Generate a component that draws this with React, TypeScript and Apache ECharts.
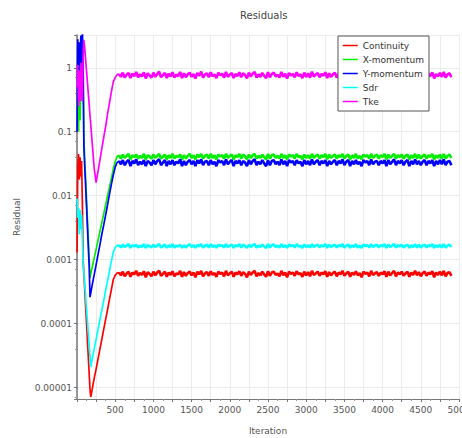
import React, { useEffect, useRef } from "react";
import * as echarts from "echarts";

const iterations = [
  1, 10, 20, 30, 40, 50, 60, 70, 80, 90, 100, 110, 120, 130, 140, 150, 160, 170, 180, 190, 200,
  225, 250, 275, 300, 325, 350, 375, 400, 425, 450, 475, 500, 525,
  550, 575, 600, 625, 650, 675, 700, 725, 750, 775, 800, 825, 850, 875, 900, 925, 950, 975,
  1000, 1025, 1050, 1075, 1100, 1125, 1150, 1175, 1200, 1225, 1250, 1275, 1300, 1325, 1350, 1375,
  1400, 1425, 1450, 1475, 1500, 1525, 1550, 1575, 1600, 1625, 1650, 1675, 1700, 1725, 1750, 1775,
  1800, 1825, 1850, 1875, 1900, 1925, 1950, 1975, 2000, 2025, 2050, 2075, 2100, 2125, 2150, 2175,
  2200, 2225, 2250, 2275, 2300, 2325, 2350, 2375, 2400, 2425, 2450, 2475, 2500, 2525, 2550, 2575,
  2600, 2625, 2650, 2675, 2700, 2725, 2750, 2775, 2800, 2825, 2850, 2875, 2900, 2925, 2950, 2975,
  3000, 3025, 3050, 3075, 3100, 3125, 3150, 3175, 3200, 3225, 3250, 3275, 3300, 3325, 3350, 3375,
  3400, 3425, 3450, 3475, 3500, 3525, 3550, 3575, 3600, 3625, 3650, 3675, 3700, 3725, 3750, 3775,
  3800, 3825, 3850, 3875, 3900, 3925, 3950, 3975, 4000, 4025, 4050, 4075, 4100, 4125, 4150, 4175,
  4200, 4225, 4250, 4275, 4300, 4325, 4350, 4375, 4400, 4425, 4450, 4475, 4500, 4525, 4550, 4575,
  4600, 4625, 4650, 4675, 4700, 4725, 4750, 4775, 4800, 4825, 4850, 4875, 4900,
];

const continuity = [
  0.0013, 0.03, 0.045, 0.018, 0.04, 0.02, 0.035, 0.008, 0.001, 6e-4, 3.6e-4, 2.1e-4, 1.3e-4, 7.6e-5, 4.5e-5, 2.7e-5, 1.6e-5, 9.5e-6, 7.2e-6, 8.3e-6, 9.6e-6,
  1.4e-5, 1.95e-5, 2.8e-5, 4e-5, 5.7e-5, 8.2e-5, 1.17e-4, 1.66e-4, 2.4e-4, 3.4e-4, 4.9e-4, 5.7e-4, 6.2e-4,
  6.3e-4, 5.7e-4, 6.5e-4, 5.5e-4, 6.1e-4, 6.5e-4, 5.4e-4, 6.3e-4, 5.9e-4, 6.7e-4,
  5.6e-4, 6.2e-4, 5.8e-4, 6.6e-4, 5.3e-4, 6.4e-4, 6.0e-4, 5.5e-4, 6.5e-4, 5.7e-4,
  6.3e-4, 6.7e-4, 5.6e-4, 6.0e-4, 6.5e-4, 5.4e-4, 6.3e-4, 5.8e-4, 6.6e-4, 5.5e-4,
  6.1e-4, 5.9e-4, 6.7e-4, 5.4e-4, 6.4e-4, 5.6e-4, 6.2e-4, 6.5e-4, 5.7e-4, 6.3e-4,
  5.3e-4, 6.5e-4, 5.9e-4, 6.7e-4, 5.5e-4, 6.1e-4, 6.4e-4, 5.6e-4, 6.6e-4, 5.8e-4,
  6.2e-4, 5.4e-4, 6.5e-4, 6.0e-4, 6.3e-4, 5.5e-4, 6.7e-4, 5.7e-4, 6.1e-4, 6.5e-4,
  5.4e-4, 6.3e-4, 5.9e-4, 6.6e-4, 5.6e-4, 6.4e-4, 6.0e-4, 5.3e-4, 6.5e-4, 5.8e-4,
  6.3e-4, 6.7e-4, 5.5e-4, 6.2e-4, 5.7e-4, 6.5e-4, 5.9e-4, 5.4e-4, 6.6e-4, 5.6e-4,
  6.3e-4, 6.5e-4, 5.8e-4, 6.1e-4, 5.5e-4, 6.7e-4, 5.7e-4, 6.3e-4, 5.3e-4, 6.5e-4,
  6.0e-4, 6.3e-4, 5.6e-4, 6.6e-4, 5.9e-4, 6.2e-4, 5.4e-4, 6.5e-4, 5.7e-4, 6.4e-4,
  5.5e-4, 6.7e-4, 5.8e-4, 6.1e-4, 6.5e-4, 5.6e-4, 6.3e-4, 5.9e-4, 6.6e-4, 5.4e-4,
  6.4e-4, 5.7e-4, 6.2e-4, 6.5e-4, 5.5e-4, 6.3e-4, 5.9e-4, 6.7e-4, 5.6e-4, 6.1e-4,
  6.5e-4, 5.4e-4, 6.3e-4, 5.8e-4, 6.6e-4, 5.7e-4, 6.2e-4, 5.3e-4, 6.5e-4, 6.0e-4,
  6.3e-4, 5.5e-4, 6.7e-4, 5.8e-4, 6.1e-4, 6.4e-4, 5.6e-4, 6.3e-4, 5.9e-4, 6.6e-4,
  5.4e-4, 6.5e-4, 5.7e-4, 6.2e-4, 6.7e-4, 5.5e-4, 6.3e-4, 5.9e-4, 6.5e-4, 5.6e-4,
  6.1e-4, 6.5e-4, 5.4e-4, 6.3e-4, 5.8e-4, 6.7e-4, 5.7e-4, 6.4e-4, 5.5e-4, 6.2e-4,
  6.5e-4, 5.6e-4, 6.3e-4, 5.9e-4, 6.6e-4, 5.3e-4, 6.3e-4, 5.8e-4, 6.5e-4, 5.7e-4,
  6.7e-4, 5.5e-4, 6.2e-4, 6.4e-4, 5.6e-4,
];

const xMomentum = [
  0.2, 0.8, 0.1, 0.7, 0.15, 1.0, 0.3, 0.9, 0.5, 0.08, 0.04, 0.022, 0.012, 0.0065, 0.0035, 0.0019, 0.001, 5.2e-4, 6.0e-4, 6.8e-4, 7.7e-4,
  1.07e-3, 1.45e-3, 2.0e-3, 2.75e-3, 3.8e-3, 5.2e-3, 7.2e-3, 0.01, 0.0135, 0.0186, 0.026, 0.034, 0.041,
  0.043, 0.038, 0.044, 0.039, 0.042, 0.045, 0.037, 0.043, 0.040, 0.044,
  0.038, 0.042, 0.039, 0.045, 0.037, 0.043, 0.041, 0.038, 0.044, 0.039,
  0.042, 0.045, 0.038, 0.041, 0.044, 0.037, 0.043, 0.039, 0.045, 0.038,
  0.042, 0.040, 0.044, 0.037, 0.043, 0.038, 0.042, 0.045, 0.039, 0.043,
  0.037, 0.044, 0.040, 0.045, 0.038, 0.042, 0.044, 0.038, 0.045, 0.039,
  0.043, 0.037, 0.044, 0.041, 0.043, 0.038, 0.045, 0.039, 0.042, 0.044,
  0.037, 0.043, 0.040, 0.045, 0.038, 0.044, 0.041, 0.037, 0.044, 0.039,
  0.043, 0.045, 0.038, 0.042, 0.039, 0.044, 0.040, 0.037, 0.045, 0.038,
  0.043, 0.044, 0.039, 0.042, 0.038, 0.045, 0.039, 0.043, 0.037, 0.044,
  0.041, 0.043, 0.038, 0.045, 0.040, 0.042, 0.037, 0.044, 0.039, 0.043,
  0.038, 0.045, 0.039, 0.042, 0.044, 0.038, 0.043, 0.040, 0.045, 0.037,
  0.044, 0.039, 0.042, 0.044, 0.038, 0.043, 0.040, 0.045, 0.038, 0.042,
  0.044, 0.037, 0.043, 0.039, 0.045, 0.038, 0.042, 0.037, 0.044, 0.041,
  0.043, 0.038, 0.045, 0.039, 0.042, 0.044, 0.038, 0.043, 0.040, 0.045,
  0.037, 0.044, 0.039, 0.042, 0.045, 0.038, 0.043, 0.040, 0.044, 0.038,
  0.042, 0.044, 0.037, 0.043, 0.039, 0.045, 0.038, 0.044, 0.038, 0.042,
  0.044, 0.038, 0.043, 0.040, 0.045, 0.037, 0.043, 0.039, 0.044, 0.038,
  0.045, 0.038, 0.042, 0.044, 0.039,
];

const yMomentum = [
  0.1, 2.8, 0.5, 2.5, 0.9, 3.2, 0.8, 4.0, 1.5, 0.06, 0.03, 0.017, 0.009, 0.0049, 0.0026, 0.0014, 7.6e-4, 2.6e-4, 3.0e-4, 3.5e-4, 4.1e-4,
  5.8e-4, 8.3e-4, 1.2e-3, 1.7e-3, 2.5e-3, 3.5e-3, 5.0e-3, 7.2e-3, 0.0105, 0.015, 0.021, 0.028, 0.033,
  0.035, 0.031, 0.036, 0.030, 0.034, 0.036, 0.029, 0.035, 0.032, 0.037,
  0.030, 0.034, 0.031, 0.036, 0.029, 0.035, 0.033, 0.030, 0.036, 0.031,
  0.035, 0.037, 0.030, 0.033, 0.036, 0.029, 0.035, 0.031, 0.036, 0.030,
  0.034, 0.032, 0.037, 0.029, 0.035, 0.030, 0.034, 0.036, 0.031, 0.035,
  0.029, 0.036, 0.032, 0.037, 0.030, 0.034, 0.035, 0.030, 0.036, 0.031,
  0.034, 0.029, 0.036, 0.033, 0.035, 0.030, 0.037, 0.031, 0.034, 0.036,
  0.029, 0.035, 0.032, 0.036, 0.030, 0.035, 0.033, 0.029, 0.036, 0.031,
  0.035, 0.037, 0.030, 0.034, 0.031, 0.036, 0.032, 0.029, 0.036, 0.030,
  0.035, 0.036, 0.031, 0.034, 0.030, 0.037, 0.031, 0.035, 0.029, 0.036,
  0.033, 0.035, 0.030, 0.036, 0.032, 0.034, 0.029, 0.036, 0.031, 0.035,
  0.030, 0.037, 0.031, 0.034, 0.036, 0.030, 0.035, 0.032, 0.036, 0.029,
  0.035, 0.031, 0.034, 0.036, 0.030, 0.035, 0.032, 0.037, 0.030, 0.034,
  0.036, 0.029, 0.035, 0.031, 0.036, 0.031, 0.034, 0.029, 0.036, 0.033,
  0.035, 0.030, 0.037, 0.031, 0.034, 0.035, 0.030, 0.035, 0.032, 0.036,
  0.029, 0.036, 0.031, 0.034, 0.037, 0.030, 0.035, 0.032, 0.036, 0.030,
  0.034, 0.036, 0.029, 0.035, 0.031, 0.037, 0.031, 0.035, 0.030, 0.034,
  0.036, 0.030, 0.035, 0.032, 0.036, 0.029, 0.035, 0.031, 0.036, 0.031,
  0.037, 0.030, 0.034, 0.035, 0.030,
];

const sdr = [
  0.009, 0.0045, 0.0065, 0.0025, 0.006, 0.003, 0.005, 0.0022, 9e-4, 6.3e-4, 4.3e-4, 3.0e-4, 2.0e-4, 1.4e-4, 9.5e-5, 6.6e-5, 4.5e-5, 3.1e-5, 2.1e-5, 2.5e-5, 2.8e-5,
  4.0e-5, 5.7e-5, 8.1e-5, 1.15e-4, 1.6e-4, 2.3e-4, 3.3e-4, 4.7e-4, 6.6e-4, 9.5e-4, 1.3e-3, 1.55e-3, 1.66e-3,
  1.69e-3, 1.55e-3, 1.72e-3, 1.58e-3, 1.66e-3, 1.75e-3, 1.53e-3, 1.69e-3, 1.61e-3, 1.72e-3,
  1.55e-3, 1.66e-3, 1.58e-3, 1.75e-3, 1.53e-3, 1.69e-3, 1.63e-3, 1.55e-3, 1.72e-3, 1.58e-3,
  1.66e-3, 1.75e-3, 1.55e-3, 1.63e-3, 1.72e-3, 1.53e-3, 1.69e-3, 1.58e-3, 1.75e-3, 1.55e-3,
  1.66e-3, 1.61e-3, 1.72e-3, 1.53e-3, 1.69e-3, 1.55e-3, 1.66e-3, 1.75e-3, 1.58e-3, 1.69e-3,
  1.53e-3, 1.72e-3, 1.61e-3, 1.75e-3, 1.55e-3, 1.66e-3, 1.72e-3, 1.55e-3, 1.75e-3, 1.58e-3,
  1.69e-3, 1.53e-3, 1.72e-3, 1.63e-3, 1.69e-3, 1.55e-3, 1.75e-3, 1.58e-3, 1.66e-3, 1.72e-3,
  1.53e-3, 1.69e-3, 1.61e-3, 1.75e-3, 1.55e-3, 1.72e-3, 1.63e-3, 1.53e-3, 1.72e-3, 1.58e-3,
  1.69e-3, 1.75e-3, 1.55e-3, 1.66e-3, 1.58e-3, 1.72e-3, 1.61e-3, 1.53e-3, 1.75e-3, 1.55e-3,
  1.69e-3, 1.72e-3, 1.58e-3, 1.66e-3, 1.55e-3, 1.75e-3, 1.58e-3, 1.69e-3, 1.53e-3, 1.72e-3,
  1.63e-3, 1.69e-3, 1.55e-3, 1.75e-3, 1.61e-3, 1.66e-3, 1.53e-3, 1.72e-3, 1.58e-3, 1.69e-3,
  1.55e-3, 1.75e-3, 1.58e-3, 1.66e-3, 1.72e-3, 1.55e-3, 1.69e-3, 1.61e-3, 1.75e-3, 1.53e-3,
  1.72e-3, 1.58e-3, 1.66e-3, 1.72e-3, 1.55e-3, 1.69e-3, 1.61e-3, 1.75e-3, 1.55e-3, 1.66e-3,
  1.72e-3, 1.53e-3, 1.69e-3, 1.58e-3, 1.75e-3, 1.55e-3, 1.66e-3, 1.53e-3, 1.72e-3, 1.63e-3,
  1.69e-3, 1.55e-3, 1.75e-3, 1.58e-3, 1.66e-3, 1.72e-3, 1.55e-3, 1.69e-3, 1.61e-3, 1.75e-3,
  1.53e-3, 1.72e-3, 1.58e-3, 1.66e-3, 1.75e-3, 1.55e-3, 1.69e-3, 1.61e-3, 1.72e-3, 1.55e-3,
  1.66e-3, 1.72e-3, 1.53e-3, 1.69e-3, 1.58e-3, 1.75e-3, 1.55e-3, 1.72e-3, 1.55e-3, 1.66e-3,
  1.72e-3, 1.55e-3, 1.69e-3, 1.61e-3, 1.75e-3, 1.53e-3, 1.69e-3, 1.58e-3, 1.72e-3, 1.55e-3,
  1.75e-3, 1.55e-3, 1.66e-3, 1.72e-3, 1.58e-3,
];

const tke = [
  0.5, 1.1, 0.25, 0.9, 0.3, 1.2, 0.4, 0.3, 1.5, 2.7, 2.1, 1.5, 1.05, 0.74, 0.52, 0.37, 0.26, 0.18, 0.13, 0.091, 0.064,
  0.027, 0.016, 0.024, 0.036, 0.055, 0.082, 0.12, 0.19, 0.28, 0.42, 0.6, 0.7, 0.78,
  0.80, 0.72, 0.84, 0.70, 0.78, 0.83, 0.69, 0.81, 0.74, 0.86,
  0.71, 0.79, 0.73, 0.85, 0.68, 0.82, 0.76, 0.70, 0.84, 0.72,
  0.80, 0.87, 0.71, 0.77, 0.83, 0.69, 0.81, 0.73, 0.85, 0.70,
  0.78, 0.74, 0.86, 0.69, 0.82, 0.71, 0.79, 0.84, 0.72, 0.80,
  0.68, 0.83, 0.75, 0.87, 0.70, 0.78, 0.82, 0.71, 0.85, 0.73,
  0.79, 0.69, 0.84, 0.76, 0.81, 0.70, 0.86, 0.72, 0.78, 0.83,
  0.69, 0.80, 0.74, 0.85, 0.71, 0.82, 0.77, 0.68, 0.84, 0.73,
  0.81, 0.86, 0.70, 0.79, 0.72, 0.83, 0.75, 0.69, 0.85, 0.71,
  0.80, 0.84, 0.73, 0.78, 0.70, 0.86, 0.72, 0.81, 0.68, 0.83,
  0.76, 0.80, 0.71, 0.85, 0.74, 0.79, 0.69, 0.84, 0.72, 0.82,
  0.70, 0.87, 0.73, 0.78, 0.83, 0.71, 0.80, 0.75, 0.85, 0.69,
  0.82, 0.72, 0.79, 0.84, 0.70, 0.81, 0.74, 0.86, 0.71, 0.78,
  0.83, 0.69, 0.80, 0.73, 0.85, 0.72, 0.79, 0.68, 0.84, 0.76,
  0.81, 0.70, 0.86, 0.73, 0.78, 0.82, 0.71, 0.80, 0.74, 0.85,
  0.69, 0.83, 0.72, 0.79, 0.87, 0.70, 0.81, 0.75, 0.84, 0.71,
  0.78, 0.83, 0.69, 0.80, 0.73, 0.86, 0.72, 0.82, 0.70, 0.79,
  0.84, 0.71, 0.81, 0.74, 0.85, 0.68, 0.80, 0.73, 0.83, 0.72,
  0.86, 0.70, 0.79, 0.82, 0.71,
];

const seriesNames = ["Continuity", "X-momentum", "Y-momentum", "Sdr", "Tke"];
const seriesColors = ["#ff0000", "#00ee00", "#0000ff", "#00ffff", "#ff00ff"];
const seriesValues = [continuity, xMomentum, yMomentum, sdr, tke];
const plateauStart = 34; // index of iteration 550

const FONT = "DejaVu Sans";
const TEXT = "#555";

export default function App() {
  const ref = useRef<HTMLDivElement>(null);
  useEffect(() => {
    if (!ref.current) return;
    const chart = echarts.init(ref.current, undefined, { renderer: "svg" });
    const formatY = (v: number) => {
      const e = Math.log10(v);
      const r = Math.round(e);
      if (Math.abs(e - r) > 1e-6) return "";
      return r >= 0 ? String(Math.pow(10, r)) : Math.pow(10, r).toFixed(-r);
    };
    const series: any[] = [];
    seriesNames.forEach((name, i) => {
      const pts = iterations.map((x, j) => [x, seriesValues[i][j]]);
      series.push({
        name,
        type: "line",
        symbol: "none",
        color: seriesColors[i],
        itemStyle: { color: seriesColors[i] },
        lineStyle: { width: 1.7, color: seriesColors[i] },
        data: pts.slice(0, plateauStart + 1),
      });
      series.push({
        name,
        type: "line",
        symbol: "none",
        color: seriesColors[i],
        itemStyle: { color: seriesColors[i] },
        lineStyle: { width: 2.6, color: seriesColors[i] },
        data: pts.slice(plateauStart),
      });
    });
    chart.setOption({
      animation: false,
      backgroundColor: "#fff",
      textStyle: { fontFamily: FONT },
      title: {
        text: "Residuals",
        left: 235,
        top: 5,
        textStyle: { fontFamily: FONT, fontSize: 10, fontWeight: "normal", color: "#444" },
      },
      legend: {
        orient: "vertical",
        left: 338,
        top: 36,
        padding: [5, 5, 5, 4],
        itemWidth: 15,
        itemHeight: 10,
        itemGap: 5,
        backgroundColor: "#fff",
        borderColor: "#555",
        borderWidth: 1,
        itemStyle: { opacity: 0 },
        lineStyle: { width: 1.5 },
        textStyle: { fontFamily: FONT, fontSize: 9, color: "#333" },
        data: seriesNames,
      },
      grid: { left: 77, right: 3, top: 35, bottom: 39, outerBoundsMode: "none", containLabel: false },
      xAxis: {
        type: "value",
        min: 0,
        max: 5000,
        interval: 250,
        name: "Iteration",
        nameLocation: "middle",
        nameGap: 27,
        nameTextStyle: { fontFamily: FONT, fontSize: 9, color: TEXT },
        axisLine: { show: true, lineStyle: { color: "#777", width: 1 } },
        axisTick: { show: true, length: 3, lineStyle: { color: "#777" } },
        minorTick: { show: true, splitNumber: 2, length: 2, lineStyle: { color: "#999" } },
        axisLabel: {
          fontFamily: FONT,
          fontSize: 9,
          color: TEXT,
          margin: 6,
          showMaxLabel: true,
          formatter: (v: number) => (v > 0 && v % 500 === 0 ? String(v) : ""),
        },
        splitLine: { show: true, lineStyle: { color: "#ececec", width: 1 } },
      },
      yAxis: {
        type: "log",
        logBase: 10,
        min: 6.65e-6,
        max: 3.25,
        name: "Residual",
        nameLocation: "middle",
        nameGap: 56,
        nameTextStyle: { fontFamily: FONT, fontSize: 9, color: TEXT },
        axisLine: { show: true, lineStyle: { color: "#777", width: 1.5 } },
        axisTick: { show: true, length: 3, lineStyle: { color: "#777" } },
        minorTick: { show: true, splitNumber: 3, length: 2, lineStyle: { color: "#999" } },
        axisLabel: { fontFamily: FONT, fontSize: 9, color: TEXT, margin: 5, formatter: formatY },
        splitLine: { show: true, lineStyle: { color: "#ececec", width: 1 } },
      },
      series,
    });
    return () => chart.dispose();
  }, []);
  return <div ref={ref} style={{ width: 462, height: 438, position: "absolute", left: 0, top: 0 }} />;
}
